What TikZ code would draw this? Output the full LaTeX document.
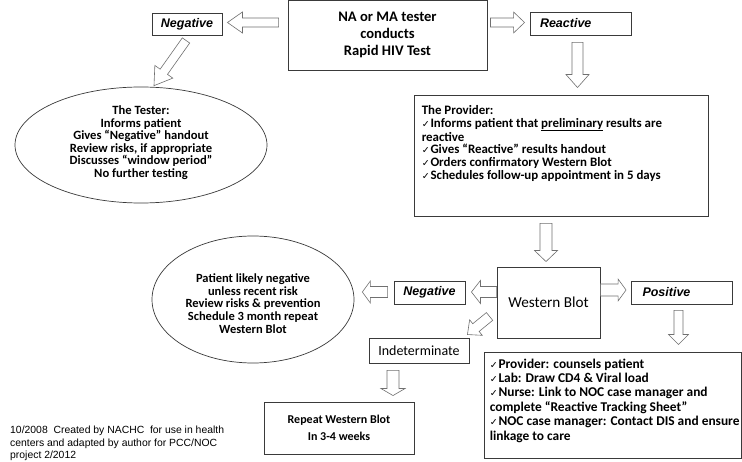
\documentclass[tikz,border=0pt]{standalone}
\usepackage{fontspec}
\setmainfont{Carlito}
\newfontfamily\arialf{Liberation Sans}
\newfontfamily\dejavuf{DejaVu Sans}
\usetikzlibrary{calc,shapes.geometric}
\definecolor{boxline}{HTML}{3A3A3A}
\definecolor{arrline}{HTML}{707070}
\newcommand\fsz[2]{\fontsize{#1}{#2}\selectfont}
\newcommand\ck{{\dejavuf\mdseries\fontsize{9.5}{9.5}\selectfont ✓}\hspace{0.8pt}}
% hollow block arrow: #1 start, #2 tip, #3 shaft half width, #4 head half width, #5 head length
\newcommand\barrow[5]{%
 \draw[blockarrow] let \p1=#1, \p2=#2, \p3=($(\p2)!#5!(\p1)$) in
   ($(\p1)!#3!90:(\p2)$) -- ($(\p3)!#3!90:(\p2)$) -- ($(\p3)!#4!90:(\p2)$) -- (\p2)
   -- ($(\p3)!#4!-90:(\p2)$) -- ($(\p3)!#3!-90:(\p2)$) -- ($(\p1)!#3!-90:(\p2)$) -- cycle;}
\tikzset{
  box/.style={draw=boxline, line width=0.9pt, inner sep=0pt, fill=white},
  ell/.style={ellipse, draw=boxline, line width=0.7pt, inner sep=0pt},
  lbl/.style={font=\arialf\bfseries\itshape\fsz{12.5}{14}},
  blockarrow/.style={draw=arrline, line width=0.6pt, fill=white, line join=miter},
  txt/.style={inner sep=0pt, align=left, anchor=north west},
  ctxt/.style={inner sep=0pt, align=center},
}
\begin{document}
\begin{tikzpicture}[x=1pt,y=-1pt]
\useasboundingbox (0,0) rectangle (742,462);
\fill[white] (0,0) rectangle (742,462);

% nodes
\node[box, minimum width=199pt, minimum height=69.5pt, align=center,
      font=\bfseries\fsz{14.6}{17}] (tb) at (387.5,35.3) {NA or MA tester\\conducts\\Rapid HIV Test};
\node[box, lbl, minimum width=70pt, minimum height=22pt] (neg1) at (187,24) {Negative};
\node[box, lbl, minimum height=23pt, text width=81pt, inner xsep=10pt, align=left] (react) at (580.5,23.5) {Reactive};

\node[ell, minimum width=252pt, minimum height=116pt] (ell1) at (141,145) {};
\node[ctxt, font=\bfseries\fsz{12.6}{12.5}] (ell1txt) at ($(ell1.center)+(0,-2.5)$)
  {The Tester:\\Informs patient\\Gives “Negative” handout\\Review risks, if appropriate\\Discusses “window period”\\No further testing};

\node[box, minimum width=294pt, minimum height=121pt] (prov) at (561,155.5) {};
\node[txt, font=\bfseries\fsz{12.9}{12.7}] (provtxt) at ($(prov.north west)+(8,10.5)$)
  {The Provider:\\\ck Informs patient that \underline{preliminary} results are\\reactive\\\ck Gives “Reactive” results handout\\\ck Orders confirmatory Western Blot\\\ck Schedules follow-up appointment in 5 days};

\node[box, minimum width=103pt, minimum height=71pt, font=\fsz{15.2}{18}] (wb) at (548.5,302.5) {Western Blot};
\node[box, lbl, minimum width=71pt, minimum height=23pt] (neg2) at (429.5,292.5) {Negative};
\node[box, lbl, minimum height=23pt, text width=79pt, inner xsep=11pt, align=left] (pos) at (682,292.5) {Positive};

\node[ell, minimum width=202pt, minimum height=127pt] (ell2) at (253,299.5) {};
\node[ctxt, font=\bfseries\fsz{12.5}{12.7}] (ell2txt) at ($(ell2.center)+(0,4)$)
  {Patient likely negative\\unless recent risk\\Review risks \& prevention\\Schedule 3 month repeat\\Western Blot};

\node[box, minimum width=100pt, minimum height=25pt, font=\fsz{14}{16}] (ind) at (419,350.5) {Indeterminate};
\node[box, minimum width=150pt, minimum height=52pt, align=center, font=\bfseries\fsz{12}{16.5}] (rep) at (339,428) {Repeat Western Blot\\In 3-4 weeks};

\node[box, minimum width=257pt, minimum height=106pt] (bot) at (612.5,405) {};
\node[txt, font=\bfseries\fsz{13.4}{14.4}] (bottxt) at ($(bot.north west)+(6,7)$)
  {\ck Provider: counsels patient\\\ck Lab: Draw CD4 \& Viral load\\\ck Nurse: Link to NOC case manager and\\complete “Reactive Tracking Sheet”\\\ck NOC case manager: Contact DIS and ensure\\linkage to care};

\node[txt, font=\arialf\fsz{10.4}{12.6}] (foot) at (10,426)
  {10/2008\ \ Created by NACHC\ \ for use in health\\centers and adapted by author for PCC/NOC\\project 2/2012};

% block arrows
\barrow{($(tb.west|-neg1.east)+(-9,-1.5)$)}{($(neg1.east)+(5,-1.5)$)}{4.5pt}{10.5pt}{15pt}
\barrow{($(neg1.south)+(-1,5)$)}{($(ell1.north)+(13,-1)$)}{4.5pt}{11pt}{17pt}
\barrow{($(tb.east|-react.west)+(3,-1)$)}{($(react.west)+(-5,-1)$)}{4.5pt}{10.5pt}{11pt}
\barrow{($(react.south)+(-3,7)$)}{($(prov.north)+(16.5,-7)$)}{5.5pt}{11.5pt}{13pt}
\barrow{($(prov.south)+(-15,7)$)}{($(wb.north)+(-2.5,-5)$)}{6pt}{11.5pt}{11pt}
\barrow{($(wb.west)+(0,-10.5)$)}{($(neg2.east)+(6,-0.5)$)}{5.5pt}{11.5pt}{9pt}
\barrow{($(neg2.west)+(-6,-0.5)$)}{($(ell2.east)+(8,-7.5)$)}{5.5pt}{11pt}{8pt}
\barrow{($(wb.east)+(0,-12.5)$)}{($(pos.west)+(-5,-2.5)$)}{6pt}{11pt}{8pt}
\barrow{($(wb.south west)+(-7,-22)$)}{($(ind.north east)+(-2,-3)$)}{5pt}{10pt}{11pt}
\barrow{($(pos.south)+(-3.5,6)$)}{($(bot.north)+(66,-7)$)}{4.5pt}{10pt}{10pt}
\barrow{($(ind.south)+(-26,7)$)}{($(rep.north)+(54,-6)$)}{6pt}{12pt}{7pt}
\end{tikzpicture}
\end{document}
